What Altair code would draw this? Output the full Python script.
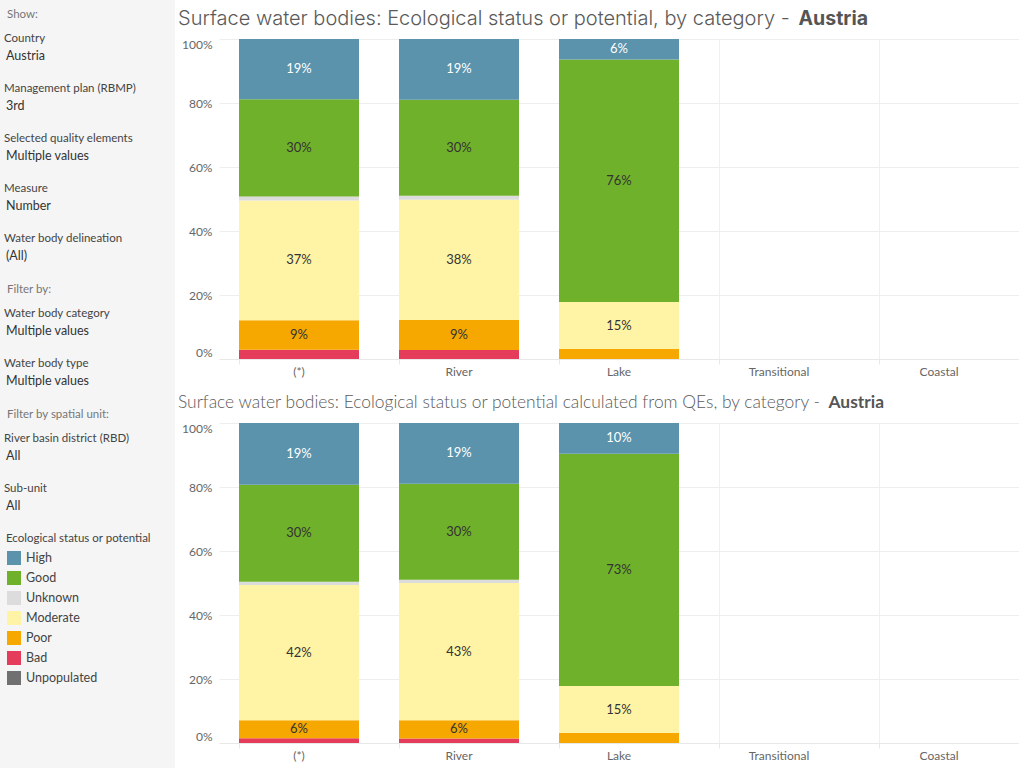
import altair as alt
import pandas as pd

# ---------------- data ----------------
categories = ["(*)", "River", "Lake", "Transitional", "Coastal"]
statuses = ["High", "Good", "Unknown", "Moderate", "Poor", "Bad", "Unpopulated"]
status_colors = ["#5a93ab", "#70b12b", "#dcdcdc", "#fff4a5", "#f6a800", "#e63c5c", "#707070"]
stack_order = ["Bad", "Poor", "Moderate", "Unknown", "Good", "High"]  # bottom -> top

# Ecological status or potential (% of water bodies) for (*), River, Lake
top_high = [18.8, 19.0, 6.4]
top_good = [30.4, 30.0, 75.8]
top_unknown = [1.3, 1.2, 0.0]
top_moderate = [37.4, 37.6, 14.7]
top_poor = [9.2, 9.4, 3.1]
top_bad = [2.9, 2.8, 0.0]

# ... calculated from QEs
bot_high = [19.3, 19.0, 9.6]
bot_good = [30.3, 30.0, 72.6]
bot_unknown = [1.0, 1.0, 0.0]
bot_moderate = [42.3, 42.9, 14.7]
bot_poor = [5.6, 5.7, 3.1]
bot_bad = [1.5, 1.4, 0.0]

top_title = "Surface water bodies: Ecological status or potential, by category - "
bot_title = "Surface water bodies: Ecological status or potential calculated from QEs, by category - "
country = "Austria"

show_filters = ["Country", "Management plan (RBMP)", "Selected quality elements", "Measure", "Water body delineation"]
show_values = ["Austria", "3rd", "Multiple values", "Number", "(All)"]
filter_filters = ["Water body category", "Water body type"]
filter_values = ["Multiple values", "Multiple values"]
spatial_filters = ["River basin district (RBD)", "Sub-unit"]
spatial_values = ["All", "All"]
legend_title = "Ecological status or potential"

# ---------------- layout constants ----------------
FONT = "Lato"
W, H = 800, 320
OX, OY = 219, 39          # plot origin of the top panel on the page
SIDEBAR_W = 175
PAGE_H = 768


def long_df(high, good, unknown, moderate, poor, bad):
    series = {"High": high, "Good": good, "Unknown": unknown,
              "Moderate": moderate, "Poor": poor, "Bad": bad}
    rows = []
    for i, cat in enumerate(categories[:len(high)]):
        for st in stack_order:
            v = series[st][i]
            if v > 0:
                rows.append({"category": cat, "status": st, "value": v,
                             "rank": stack_order.index(st)})
    return pd.DataFrame(rows)


top_df = long_df(top_high, top_good, top_unknown, top_moderate, top_poor, top_bad)
bot_df = long_df(bot_high, bot_good, bot_unknown, bot_moderate, bot_poor, bot_bad)

# sidebar text table (positions computed from the layout rules)
side_rows = []
cur = 14
for header, labs, vals in [("Show:", show_filters, show_values),
                           ("Filter by:", filter_filters, filter_values),
                           ("Filter by spatial unit:", spatial_filters, spatial_values)]:
    side_rows.append({"t": header, "kind": "header", "x": 7 - OX, "y": cur + 0.5 - OY})
    y = cur + 25
    for l, v in zip(labs, vals):
        side_rows.append({"t": l, "kind": "label", "x": 4 - OX, "y": y - OY})
        side_rows.append({"t": v, "kind": "value", "x": 6 - OX, "y": y + 17 - OY})
        y += 50
    cur = y
side_rows.append({"t": legend_title, "kind": "label", "x": 6 - OX, "y": cur - OY})
side_df = pd.DataFrame(side_rows)
legend_df = pd.DataFrame({"status": statuses,
                          "y": [cur + 19 + 20 * i - OY for i in range(len(statuses))]})
legend_df["sx"] = 14 - OX
legend_df["tx"] = 26 - OX

color_scale = alt.Scale(domain=statuses, range=status_colors)
x_scale = alt.Scale(domain=categories, paddingInner=0.25, paddingOuter=0.125)
y_scale = alt.Scale(domain=[0, 100])

x_axis = alt.Axis(title=None, labelFont=FONT, labelFontSize=12, labelColor="#666666",
                  labelPadding=2, bandPosition=0, grid=True, gridColor="#f0f0f0",
                  ticks=True, tickSize=5, tickColor="#e8e8e8", domainColor="#e8e8e8",
                  labelAngle=0)
y_axis = alt.Axis(title=None, values=[0, 20, 40, 60, 80, 100], labelExpr="datum.value + '%'",
                  labelFont=FONT, labelFontSize=12, labelColor="#666666", labelPadding=7,
                  labelFlush=True, grid=True, gridColor="#eeeeee", domain=False, ticks=False)


def core(df):
    base = alt.Chart(df).transform_stack(
        stack="value", groupby=["category"],
        sort=[alt.SortField("rank", order="ascending")], as_=["y0", "y1"]
    ).transform_calculate(mid="(datum.y0 + datum.y1) / 2",
                          label="round(datum.value) + '%'")
    bars = base.mark_bar().encode(
        x=alt.X("category:N", scale=x_scale, sort=categories, axis=x_axis),
        y=alt.Y("y0:Q", scale=y_scale, axis=y_axis),
        y2="y1:Q",
        color=alt.Color("status:N", scale=color_scale, legend=None),
    )
    labels = base.transform_filter("datum.value >= 5").mark_text(
        font=FONT, fontSize=13).encode(
        x=alt.X("category:N", scale=x_scale, sort=categories, axis=x_axis),
        y=alt.Y("mid:Q", scale=y_scale, axis=y_axis),
        text="label:N",
        color=alt.condition("datum.status == 'High'", alt.value("white"), alt.value("#333333")),
    )
    return alt.layer(bars, labels)


def title_layers(text, font, size, bold_size, base_y, bold_end_x):
    reg = alt.Chart(pd.DataFrame({"t": [text]})).mark_text(
        font=font, fontSize=size, align="left", baseline="alphabetic",
        color="#5a5a5a", fontWeight=300).encode(
        x=alt.value(-41), y=alt.value(base_y), text="t:N")
    bold = alt.Chart(pd.DataFrame({"t": [country]})).mark_text(
        font=font, fontSize=bold_size, align="right", baseline="alphabetic",
        color="#555555", fontWeight="bold").encode(
        x=alt.value(bold_end_x), y=alt.value(base_y), text="t:N")
    return [reg, bold]


# sidebar layers
side_bg = alt.Chart(pd.DataFrame({"a": [0]})).mark_rect(color="#f5f5f5").encode(
    x=alt.value(-OX), x2=alt.value(SIDEBAR_W - OX),
    y=alt.value(-OY), y2=alt.value(PAGE_H - OY))

side_base = alt.Chart(side_df)
sx = alt.X("x:Q", scale=None, axis=None)
sy = alt.Y("y:Q", scale=None, axis=None)
side_header = side_base.transform_filter("datum.kind == 'header'").mark_text(
    font=FONT, fontSize=11.5, align="left", baseline="middle", color="#777777").encode(
    x=sx, y=sy, text="t:N")
side_label = side_base.transform_filter("datum.kind == 'label'").mark_text(
    font=FONT, fontSize=11.5, align="left", baseline="middle", color="#444444").encode(
    x=sx, y=sy, text="t:N")
side_value = side_base.transform_filter("datum.kind == 'value'").mark_text(
    font=FONT, fontSize=12.5, align="left", baseline="middle", color="#333333").encode(
    x=sx, y=sy, text="t:N")

leg_sq = alt.Chart(legend_df).mark_square(size=196, opacity=1, filled=True).encode(
    x=alt.X("sx:Q", scale=None, axis=None), y=alt.Y("y:Q", scale=None, axis=None),
    color=alt.Color("status:N", scale=color_scale, legend=None))
leg_tx = alt.Chart(legend_df).mark_text(
    font=FONT, fontSize=12.5, align="left", baseline="middle", color="#444444").encode(
    x=alt.X("tx:Q", scale=None, axis=None), y=alt.Y("y:Q", scale=None, axis=None),
    text="status:N")

top = alt.layer(
    side_bg, side_header, side_label, side_value, leg_sq, leg_tx,
    core(top_df), *title_layers(top_title, "Inter", 20.0, 19.5, -14, 649)
).resolve_scale(x="independent", y="independent").properties(width=W, height=H)

bottom = alt.layer(
    core(bot_df), *title_layers(bot_title, FONT, 17.4, 17.4, -15, 665)
).resolve_scale(x="independent", y="independent").properties(width=W, height=H)

chart = alt.vconcat(top, bottom, spacing=64, bounds="flush").properties(
    padding=0).configure_view(strokeWidth=0)

chart.save("out.html", embed_options={"renderer": "svg", "actions": False})
